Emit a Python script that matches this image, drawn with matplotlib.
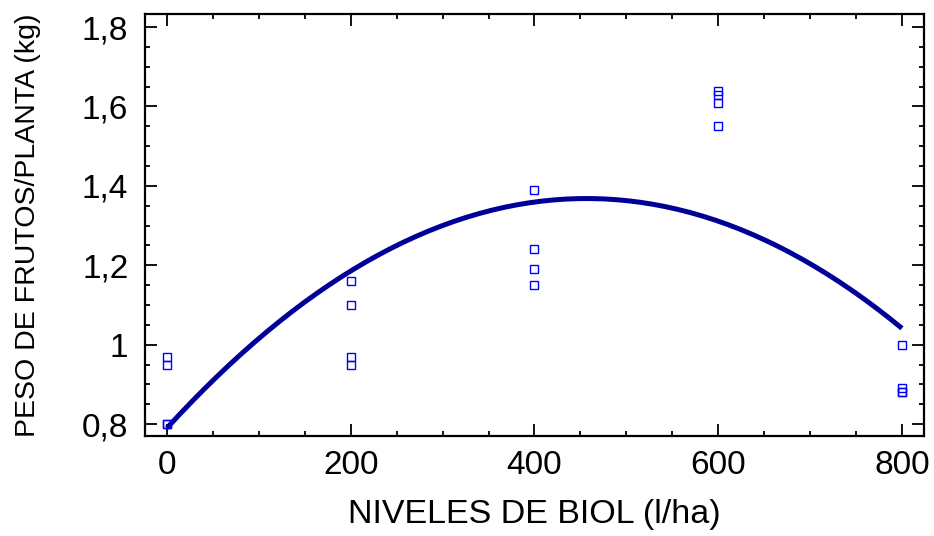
import matplotlib
matplotlib.use("Agg")
import matplotlib.pyplot as plt
import numpy as np
from matplotlib.ticker import MultipleLocator, FuncFormatter

# biol levels (l/ha) and fruit weight per plant (kg), four replicates each
biol_levels = [0, 0, 0, 0,
               200, 200, 200, 200,
               400, 400, 400, 400,
               600, 600, 600, 600,
               800, 800, 800, 800]
fruit_weight = [0.97, 0.95, 0.80, 0.80,
                1.16, 1.10, 0.97, 0.95,
                1.39, 1.24, 1.19, 1.15,
                1.64, 1.63, 1.61, 1.55,
                1.00, 0.89, 0.88, 0.88]

X_LABEL = "NIVELES DE BIOL (l/ha)"
Y_LABEL = "PESO DE FRUTOS/PLANTA (kg)"

plt.rcParams["font.family"] = ["Liberation Sans", "DejaVu Sans"]

x = np.asarray(biol_levels, dtype=float)
y = np.asarray(fruit_weight, dtype=float)

# second order fitted model, as in the original "fitted model" plot
coeffs = np.polyfit(x, y, 2)
x_fit = np.linspace(x.min(), x.max(), 60)
y_fit = np.polyval(coeffs, x_fit)

fig = plt.figure(figsize=(9.34, 5.36), dpi=100)
ax = fig.add_axes([0.1552, 0.1866, 0.8341, 0.7873])

ax.plot(x_fit, y_fit, color="#000099", linewidth=3.6, solid_capstyle="butt", zorder=2)
ax.plot(x, y, linestyle="none", marker="s", markersize=6.0, markerfacecolor="none",
        markeredgecolor="#0000FF", markeredgewidth=1.0, zorder=3)

ax.set_xlim(-24, 824)
ax.set_ylim(0.77, 1.833)

ax.xaxis.set_major_locator(MultipleLocator(200))
ax.xaxis.set_minor_locator(MultipleLocator(50))
ax.yaxis.set_major_locator(MultipleLocator(0.2))
ax.yaxis.set_minor_locator(MultipleLocator(0.05))


def _comma(v, _pos):
    txt = f"{v:.1f}".rstrip("0").rstrip(".")
    return txt.replace(".", ",")


ax.yaxis.set_major_formatter(FuncFormatter(_comma))

ax.tick_params(which="both", direction="in", top=True, right=True, width=1.3, color="black")
ax.tick_params(which="major", length=8.5)
ax.tick_params(which="minor", length=3.5)
ax.tick_params(axis="y", which="major", labelsize=24, pad=12)
ax.tick_params(axis="x", which="major", labelsize=24, pad=10)

for spine in ax.spines.values():
    spine.set_linewidth(1.6)

ax.set_xlabel(X_LABEL, fontsize=24.5)
ax.set_ylabel(Y_LABEL, fontsize=20.5)
ax.xaxis.set_label_coords(0.5, -0.15)
ax.yaxis.set_label_coords(-0.134, 0.5)

fig.savefig("out.png", dpi=100)
plt.close(fig)
